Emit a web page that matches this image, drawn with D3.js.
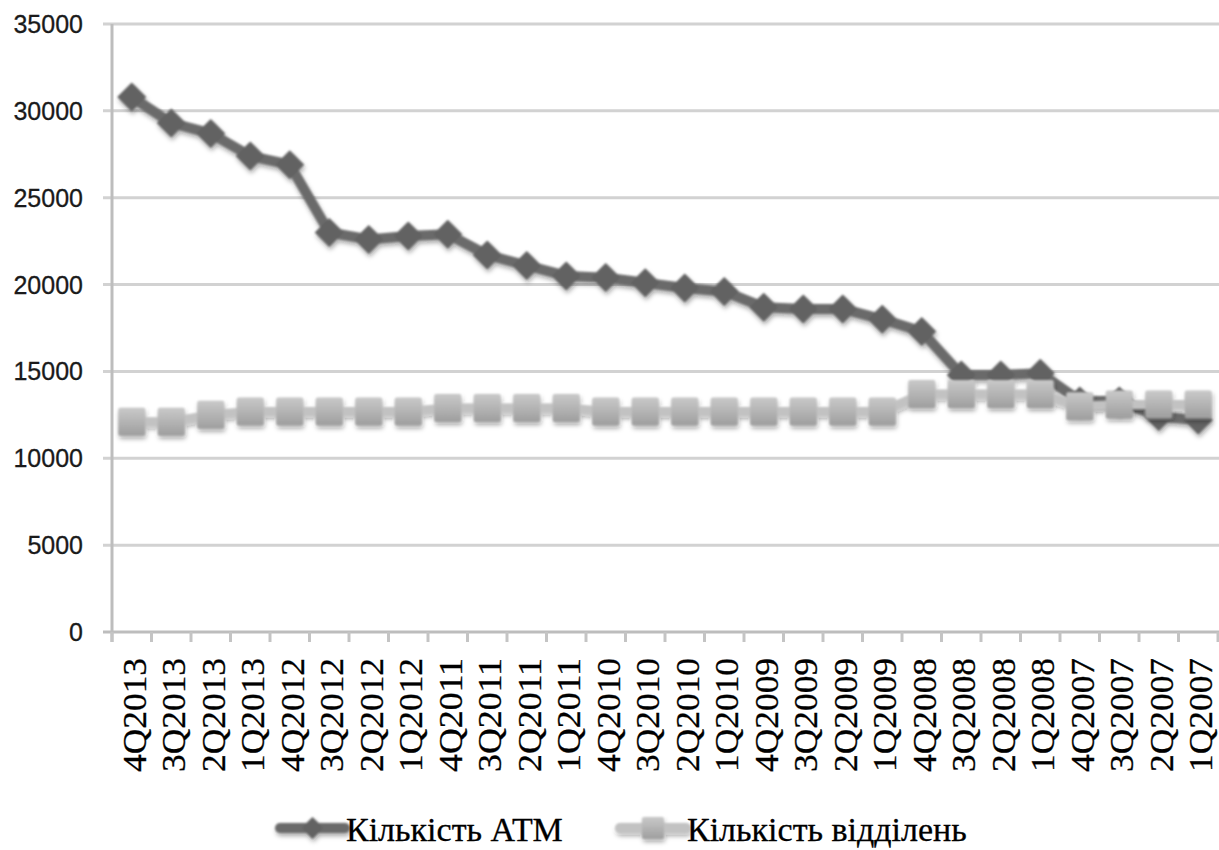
<!DOCTYPE html>
<html>
<head>
<meta charset="utf-8">
<script src="https://cdn.jsdelivr.net/npm/d3@7/dist/d3.min.js"></script>
<style>
  html, body { margin: 0; padding: 0; background: #fff; }
  svg { display: block; }
</style>
</head>
<body>
<svg id="chart" width="1219" height="850"></svg>
<script>
// Quarters, newest first
const quarters = [
  "4Q2013", "3Q2013", "2Q2013", "1Q2013",
  "4Q2012", "3Q2012", "2Q2012", "1Q2012",
  "4Q2011", "3Q2011", "2Q2011", "1Q2011",
  "4Q2010", "3Q2010", "2Q2010", "1Q2010",
  "4Q2009", "3Q2009", "2Q2009", "1Q2009",
  "4Q2008", "3Q2008", "2Q2008", "1Q2008",
  "4Q2007", "3Q2007", "2Q2007", "1Q2007"
];

// Number of ATMs
const atmCount = [
  30800, 29300, 28700, 27400,
  26900, 23000, 22600, 22800,
  22900, 21700, 21100, 20500,
  20400, 20100, 19800, 19600,
  18700, 18600, 18600, 18000,
  17300, 14800, 14800, 14900,
  13300, 13300, 12400, 12200
];

// Number of branches
const branchCount = [
  12100, 12100, 12500, 12700,
  12700, 12700, 12700, 12700,
  12900, 12900, 12900, 12900,
  12700, 12700, 12700, 12700,
  12700, 12700, 12700, 12700,
  13700, 13700, 13700, 13700,
  13000, 13100, 13100, 13100
];

const yTicks = [0, 5000, 10000, 15000, 20000, 25000, 30000, 35000];

const seriesNames = ["Кількість АТМ", "Кількість відділень"];

const svg = d3.select("#chart");
const plot = { left: 112, right: 1219, top: 24, bottom: 632 };

const x = d3.scaleBand()
  .domain(quarters)
  .range([plot.left, plot.left + 39.5 * quarters.length])
  .padding(0);

const y = d3.scaleLinear()
  .domain([0, 35000])
  .range([plot.bottom, plot.top]);

// Filters: soft marks with a drop shadow
const defs = svg.append("defs");
const shadow = defs.append("filter").attr("id", "shadow")
  .attr("x", "-20%").attr("y", "-20%").attr("width", "140%").attr("height", "160%");
shadow.append("feGaussianBlur").attr("in", "SourceGraphic").attr("stdDeviation", 0.8).attr("result", "soft");
shadow.append("feDropShadow").attr("in", "soft")
  .attr("dx", 1).attr("dy", 3).attr("stdDeviation", 2.2)
  .attr("flood-color", "#000").attr("flood-opacity", 0.35);

const softGrid = defs.append("filter").attr("id", "softGrid");
softGrid.append("feGaussianBlur").attr("stdDeviation", 0.5);

const grad = defs.append("linearGradient").attr("id", "squareFill")
  .attr("x1", 0).attr("y1", 0).attr("x2", 0).attr("y2", 1);
grad.append("stop").attr("offset", "0%").attr("stop-color", "#c9c9c9");
grad.append("stop").attr("offset", "100%").attr("stop-color", "#9e9e9e");

// Horizontal gridlines with short left ticks
const grid = svg.append("g").attr("filter", "url(#softGrid)");
grid.selectAll("line.grid")
  .data(yTicks)
  .join("line")
  .attr("class", "grid")
  .attr("x1", plot.left - 9)
  .attr("x2", plot.right)
  .attr("y1", d => y(d))
  .attr("y2", d => y(d))
  .attr("stroke", d => d === 0 ? "#bdbdbd" : "#d2d2d2")
  .attr("stroke-width", 3);

// Vertical axis line
grid.append("line")
  .attr("x1", plot.left).attr("x2", plot.left)
  .attr("y1", plot.top).attr("y2", plot.bottom + 10)
  .attr("stroke", "#bdbdbd").attr("stroke-width", 3);

// Category tick marks at band boundaries
const boundaries = quarters.map(q => x(q)).concat([x(quarters[quarters.length - 1]) + x.bandwidth()]);
grid.selectAll("line.xtick")
  .data(boundaries)
  .join("line")
  .attr("class", "xtick")
  .attr("x1", d => d).attr("x2", d => d)
  .attr("y1", plot.bottom).attr("y2", plot.bottom + 10)
  .attr("stroke", "#c4c4c4").attr("stroke-width", 3);

// Y tick labels
svg.append("g").selectAll("text")
  .data(yTicks)
  .join("text")
  .attr("x", 83)
  .attr("y", d => y(d))
  .attr("dy", "0.36em")
  .attr("text-anchor", "end")
  .attr("font-family", "'Liberation Sans', Arial, sans-serif")
  .attr("font-size", 25)
  .attr("fill", "#1a1a1a")
  .attr("stroke", "#1a1a1a")
  .attr("stroke-width", 0.3)
  .text(d => d);

// X tick labels, rotated
svg.append("g").selectAll("text")
  .data(quarters)
  .join("text")
  .attr("transform", d => `translate(${x(d) + x.bandwidth() / 2 + 14},658) rotate(-90)`)
  .attr("text-anchor", "end")
  .attr("font-family", "'Liberation Serif', 'Times New Roman', serif")
  .attr("font-size", 33)
  .attr("textLength", 114)
  .attr("lengthAdjust", "spacingAndGlyphs")
  .attr("fill", "#000")
  .attr("stroke", "#000")
  .attr("stroke-width", 0.3)
  .text(d => d);

const cx = d => x(d) + x.bandwidth() / 2;
const diamond = (s) => `M0,${-s}L${s},0L0,${s}L${-s},0Z`;

// ATM series
const atmData = quarters.map((q, i) => ({ q, v: atmCount[i] }));
const atmG = svg.append("g").attr("filter", "url(#shadow)");
atmG.append("path")
  .datum(atmData)
  .attr("fill", "none")
  .attr("stroke", "#6b6b6b")
  .attr("stroke-width", 10)
  .attr("stroke-linejoin", "round")
  .attr("d", d3.line().x(d => cx(d.q)).y(d => y(d.v)));
atmG.selectAll("path.mk")
  .data(atmData)
  .join("path")
  .attr("class", "mk")
  .attr("transform", d => `translate(${cx(d.q)},${y(d.v)})`)
  .attr("d", diamond(14.5))
  .attr("fill", "#626262");

// Branch series
const brData = quarters.map((q, i) => ({ q, v: branchCount[i] }));
const brG = svg.append("g").attr("filter", "url(#shadow)");
brG.append("path")
  .datum(brData)
  .attr("fill", "none")
  .attr("stroke", "#c2c2c2")
  .attr("stroke-width", 9)
  .attr("stroke-linejoin", "round")
  .attr("d", d3.line().x(d => cx(d.q)).y(d => y(d.v)));
brG.selectAll("rect.mk")
  .data(brData)
  .join("rect")
  .attr("class", "mk")
  .attr("x", d => cx(d.q) - 13.5)
  .attr("y", d => y(d.v) - 14)
  .attr("width", 27)
  .attr("height", 28)
  .attr("rx", 2)
  .attr("fill", "url(#squareFill)");

// Legend
const legend = svg.append("g");
const legendItems = [
  { name: seriesNames[0], x0: 280, x1: 345, tx: 346, kind: "diamond" },
  { name: seriesNames[1], x0: 620, x1: 686, tx: 687, kind: "square" }
];
const ly = 828;
legendItems.forEach(it => {
  const g = legend.append("g").attr("filter", "url(#shadow)");
  g.append("line")
    .attr("x1", it.x0).attr("x2", it.x1)
    .attr("y1", ly).attr("y2", ly)
    .attr("stroke", it.kind === "diamond" ? "#6b6b6b" : "#c2c2c2")
    .attr("stroke-width", 10)
    .attr("stroke-linecap", "round");
  const mx = (it.x0 + it.x1) / 2;
  if (it.kind === "diamond") {
    g.append("path")
      .attr("transform", `translate(${mx},${ly})`)
      .attr("d", diamond(11))
      .attr("fill", "#626262");
  } else {
    g.append("rect")
      .attr("x", mx - 11).attr("y", ly - 11)
      .attr("width", 22).attr("height", 22).attr("rx", 2)
      .attr("fill", "url(#squareFill)");
  }
  legend.append("text")
    .attr("x", it.tx)
    .attr("y", 841)
    .attr("font-family", "'Liberation Serif', 'Times New Roman', serif")
    .attr("font-size", 34)
    .attr("fill", "#000")
    .attr("stroke", "#000")
    .attr("stroke-width", 0.3)
    .text(it.name);
});
</script>
</body>
</html>
